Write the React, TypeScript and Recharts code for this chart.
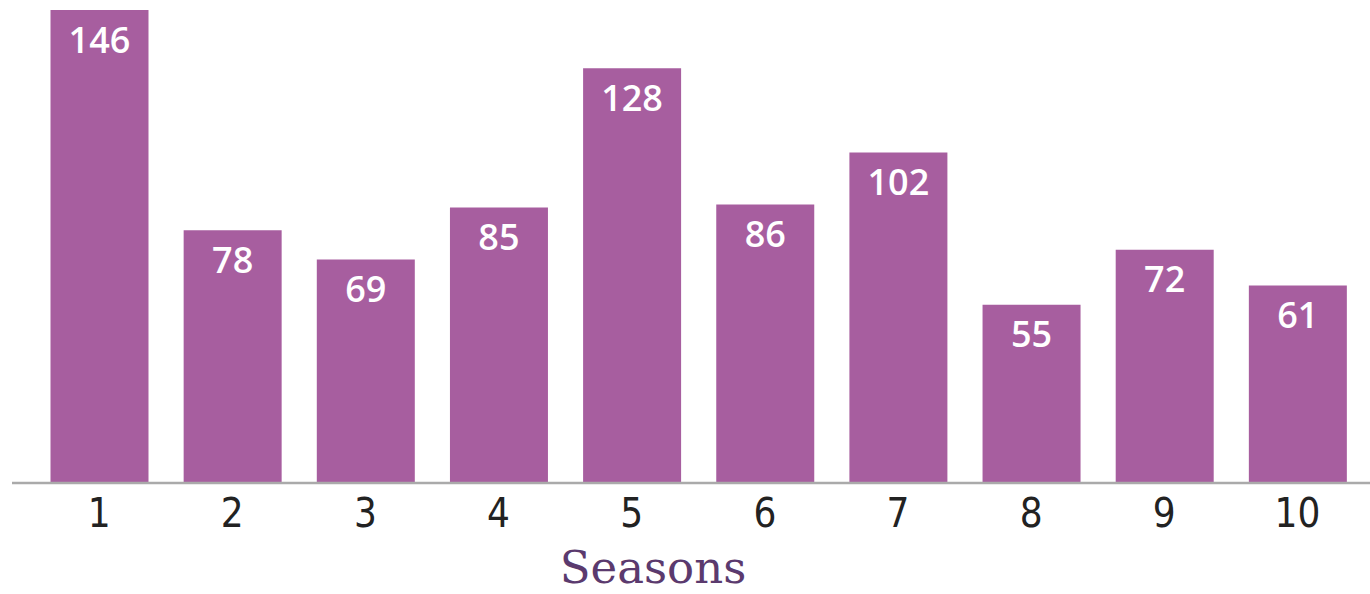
import { Bar, BarChart, LabelList, XAxis, YAxis } from "recharts";

const seasons = ["1", "2", "3", "4", "5", "6", "7", "8", "9", "10"];
const episodes = [146, 78, 69, 85, 128, 86, 102, 55, 72, 61];

const data = seasons.map((season, i) => ({ season, episodes: episodes[i] }));

function App() {
  return (
    <div style={{ position: "absolute", left: 0, top: 0, width: 1370, height: 594, background: "#fff" }}>
      <BarChart width={1370} height={594} data={data} margin={{ top: 10, right: 0, left: 12, bottom: 0 }}>
        <XAxis
          dataKey="season"
          height={111}
          padding={{ left: 20.5, right: 6 }}
          tickLine={false}
          tickMargin={10}
          axisLine={{ stroke: "#aaaaaa", strokeWidth: 2.5 }}
          tick={{ fill: "#222", fontSize: 40, fontFamily: "'DejaVu Sans Condensed', 'Liberation Sans', sans-serif" }}
          label={{
            value: "Seasons",
            position: "insideBottom",
            offset: 11,
            dx: -38,
            fill: "#5b3a6e",
            fontSize: 45,
            fontFamily: "'DejaVu Serif', serif"
          }}
        />
        <YAxis hide domain={[0, 146]} />
        <Bar dataKey="episodes" fill="#a75e9f" barSize={98} isAnimationActive={false}>
          <LabelList
            dataKey="episodes"
            position="insideTop"
            offset={17}
            fill="#ffffff"
            fontSize={36}
            fontWeight={600}
            fontFamily="'Open Sans', 'Noto Sans', sans-serif"
          />
        </Bar>
      </BarChart>
    </div>
  );
}

export default App;
